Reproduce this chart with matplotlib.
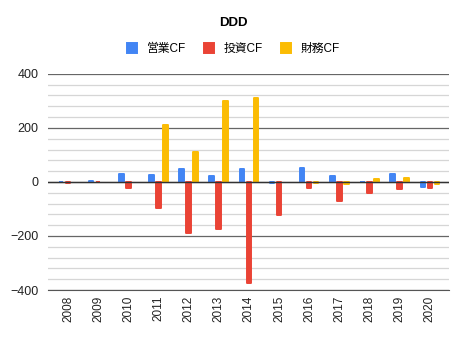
import numpy as np
import matplotlib
matplotlib.use("Agg")
import matplotlib.pyplot as plt
from matplotlib.ticker import MultipleLocator

plt.rcParams['font.family'] = ['Liberation Sans', 'Noto Sans CJK JP', 'DejaVu Sans']

years = ['2008', '2009', '2010', '2011', '2012', '2013', '2014',
         '2015', '2016', '2017', '2018', '2019', '2020']
eigyo_cf = [-2, 3, 31, 27, 49, 23, 49, -3, 53, 23, -2, 31, -20]
toshi_cf = [-3, -2, -22, -97, -189, -175, -374, -123, -23, -72, -42, -27, -23]
zaimu_cf = [np.nan, np.nan, np.nan, 209, 112, 298, 309, np.nan, -3, -8, 12, 16, -8]

series = [('営業CF', eigyo_cf, '#4285F4'),
          ('投資CF', toshi_cf, '#EA4335'),
          ('財務CF', zaimu_cf, '#FBBC04')]

fig = plt.figure(figsize=(4.67, 3.42), dpi=100)
ax = fig.add_axes([0.103, 0.152, 0.858, 0.632])

x = np.arange(len(years))
w = 0.15
step = 0.232
for i, (name, vals, col) in enumerate(series):
    ax.bar(x + (i - 1) * step, vals, width=w, color=col, edgecolor=col,
           linewidth=1.4, joinstyle='round', label=name, zorder=3)

ax.set_xlim(-0.66, 12.63)
ax.set_ylim(-400, 400)
ax.yaxis.set_major_locator(MultipleLocator(200))
ax.yaxis.set_minor_locator(MultipleLocator(40))
ax.grid(axis='y', which='major', color='#666666', linewidth=0.9, zorder=1)
ax.grid(axis='y', which='minor', color='#d6d6d6', linewidth=0.9, zorder=0)
ax.axhline(0, color='#333333', linewidth=1.0, zorder=4)
for s in ['top', 'right', 'left']:
    ax.spines[s].set_visible(False)
ax.spines['bottom'].set_color('#555555')
ax.tick_params(axis='both', which='both', length=0, labelsize=9, colors='#222222')
ax.tick_params(axis='y', pad=7)
ax.tick_params(axis='x', pad=4, labelsize=8.5)
ax.set_xticks(x)
ax.set_xticklabels(years, rotation=90)

fig.text(0.5, 0.932, 'DDD', ha='center', va='center', fontsize=9.5, fontweight='bold')
leg = fig.legend(loc='center', bbox_to_anchor=(0.5, 0.857), ncol=3, frameon=False,
                 fontsize=8.5, handlelength=0.9, handleheight=0.9,
                 columnspacing=1.5, handletextpad=0.8)

fig.savefig('out.png', dpi=100)
